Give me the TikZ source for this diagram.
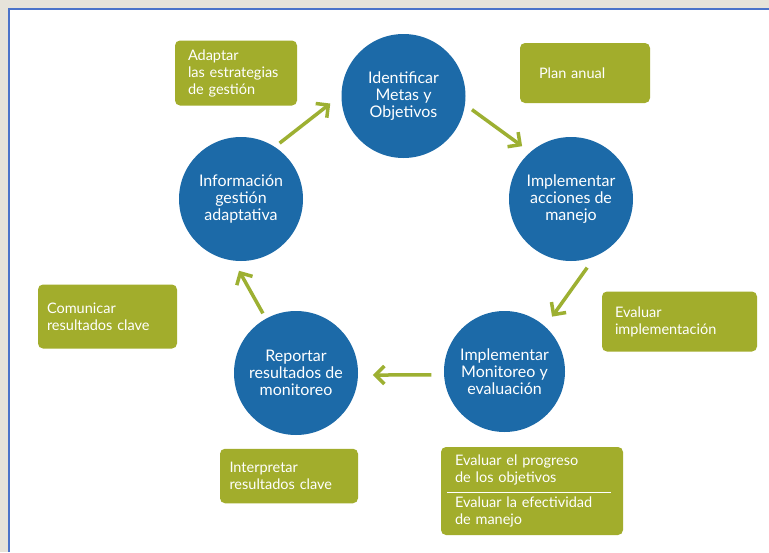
\documentclass[tikz,border=0pt]{standalone}
\usepackage{fontspec}
\setmainfont{Lato}
\usetikzlibrary{arrows.meta,calc}
\definecolor{circblue}{HTML}{1C6AA8}
\definecolor{boxolive}{HTML}{A2AD2C}
\definecolor{arrolive}{HTML}{9DB032}
\definecolor{framebg}{HTML}{E6E3DA}
\definecolor{frameblue}{HTML}{4B73C9}
\begin{document}
\begin{tikzpicture}[x=1pt,y=-1pt,
  etapa/.style={shape=circle, fill=circblue, draw=none, minimum size=124pt, inner sep=0pt, align=center, text=white, font=\fontsize{16}{17}\selectfont},
  tarea/.style={shape=rectangle, rounded corners=5pt, fill=boxolive, draw=none, align=left, text=white, font=\fontsize{14.5}{17}\selectfont, inner ysep=0pt},
  flecha/.style={draw=arrolive, line width=3.5pt, -{Straight Barb[length=9pt,width=18pt]}}]
%%%%%%%%%%%%%%%%%%%%%%%%%%%%%%%%%%%%%%%%%%% HELP LINES
%\draw[help lines, step=50] (0,0) grid (769,552);

%%%%%%%%%%%%%%%%%%%%%%%%%%%%%%%%%%%%%%%%%%% frame
\useasboundingbox (0,0) rectangle (769,552);
\fill[framebg] (0,0) rectangle (769,552);
\fill[white] (8,8) rectangle (769,552);
\draw[frameblue, line width=2pt] (9,552) -- (9,9) -- (769,9);

%%%%%%%%%%%%%%%%%%%%%%%%%%%%%%%%%%%%%%%%%%% cycle
\node[etapa](ident) at (403.5,96){Identificar\\Metas y\\Objetivos};
\node[etapa](acciones) at (571,199){Implementar\\acciones de\\manejo};
\node[etapa, minimum size=121pt](monit) at (504.5,371.5){Implementar\\Monitoreo y\\evaluación};
\node[etapa](reporte) at (296,373){Reportar\\resultados de\\monitoreo};
\node[etapa](info) at (241,199){Información\\gestión\\adaptativa};

%%%%% arrows
\draw[flecha, shorten <=6pt, shorten >=14pt] (info.57) -- (ident.179);
\draw[flecha, shorten <=8.5pt, shorten >=10pt] (ident.-8) -- (acciones.131);
\draw[flecha, shorten <=14pt, shorten >=12pt] (acciones.-67) -- (monit.48);
\draw[flecha, shorten <=12.5pt, shorten >=14.7pt] (monit.183) -- (reporte.-2);
\draw[flecha, shorten <=6pt, shorten >=11.5pt] (reporte.119) -- (info.263);

%%%%%%%%%%%%%%%%%%%%%%%%%%%%%%%%%%%%%%%%%%% tasks
\node[tarea, minimum height=65pt, text width=96pt, inner xsep=13pt](adaptar) at (236,73){Adaptar\\las estrategias\\de gestión};
\node[tarea, minimum height=60pt, text width=92pt, inner xsep=19pt](plan) at (585,73){Plan anual};
\node[tarea, minimum height=64pt, text width=121pt, inner xsep=9pt](comunicar) at (107.5,316.5){Comunicar\\resultados clave};
\node[tarea, minimum height=60pt, text width=129pt, inner xsep=13pt](evalimpl) at (679.5,321.5){Evaluar\\implementación};
\node[tarea, minimum height=54.5pt, text width=119pt, inner xsep=9.5pt](interpretar) at (289,476){Interpretar\\resultados clave};
\node[tarea, minimum height=88pt, text width=154pt, inner xsep=14pt](progreso) at (532,491){Evaluar el progreso\\de los objetivos\\[8pt]Evaluar la efectividad\\de manejo};
\draw[white, line width=0.8pt] ($(progreso.west)+(6,1)$) -- ($(progreso.east)+(-12,1)$);
\end{tikzpicture}
\end{document}
